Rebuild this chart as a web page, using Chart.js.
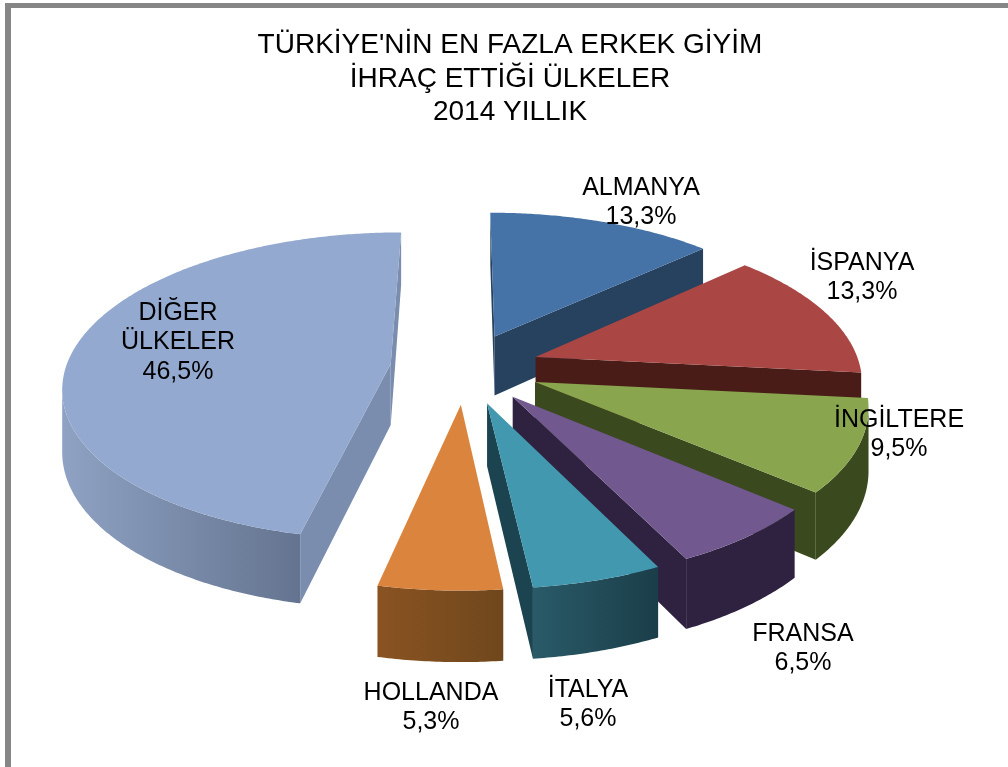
<!DOCTYPE html>
<html>
<head>
<meta charset="utf-8">
<script src="https://cdn.jsdelivr.net/npm/chart.js@4"></script>
<style>
    html, body { margin: 0; width: 1008px; height: 767px; overflow: hidden; background: #fff; }
    canvas { position: absolute; left: 0; top: 0; }
    .frame { position: absolute; background: #868686; }
</style>
</head>
<body>
<canvas id="pieChart" width="1020" height="767"></canvas>
<div class="frame" style="left:5px;top:3px;width:1003px;height:5px"></div>
<div class="frame" style="left:5px;top:3px;width:6px;height:764px"></div>
<script>
const countries = ['ALMANYA', 'İSPANYA', 'İNGİLTERE', 'FRANSA', 'İTALYA', 'HOLLANDA', 'DİĞER ÜLKELER'];
const shares = [13.3, 13.3, 9.5, 6.5, 5.6, 5.3, 46.5];
const titleLines = ["TÜRKİYE'NİN EN FAZLA ERKEK GİYİM", 'İHRAÇ ETTİĞİ ÜLKELER', '2014 YILLIK'];

const topColors = ['#4572a7', '#aa4643', '#89a54e', '#71588f', '#4198af', '#db843d', '#93a9cf'];
const cutColors = ['#27425f', '#4a1c18', '#3a4a1e', '#2f2140', '#1b4450', '#7a4a1e', '#7a8dae'];
const wallLeftColors = ['#27425f', '#4a1c18', '#3a4a1e', '#2f2140', '#2a5a68', '#8a5322', '#8fa2c3'];
const wallRightColors = ['#27425f', '#4a1c18', '#3a4a1e', '#2f2140', '#1a3e49', '#6f471c', '#647490'];

// centre of each label, the lines are split on the space only for DİĞER ÜLKELER
const labelSpots = [[641, 188], [862, 263], [899, 420], [803, 634], [588, 690], [431, 693], [178, 313]];

// the tilted view: pie centre on screen, squash, perspective and thickness
const view = { cx: 465, cy: 368, squash: 0.475, persp: 0.00043, depth: 61 };

function project(x, y, h) {
    const s = 1 + view.persp * y;
    return { x: view.cx + x * s, y: view.cy + view.squash * y * s + h * view.depth * s };
}

function fillFace(ctx, upper, lower, fill) {
    ctx.beginPath();
    upper.forEach((p, i) => i ? ctx.lineTo(p.x, p.y) : ctx.moveTo(p.x, p.y));
    lower.slice().reverse().forEach(p => ctx.lineTo(p.x, p.y));
    ctx.closePath();
    ctx.fillStyle = fill;
    ctx.fill();
}

function drawSlice(ctx, arc, i) {
    const { startAngle, endAngle, outerRadius } = arc.getProps(['startAngle', 'endAngle', 'outerRadius']);
    const mid = (startAngle + endAngle) / 2;
    const shift = arc.options.offset / 4;
    const ox = Math.cos(mid) * shift;
    const oy = Math.sin(mid) * shift;
    const steps = Math.ceil((endAngle - startAngle) / 0.01);

    const rim = [];
    for (let n = 0; n <= steps; n++) {
        const a = startAngle + (endAngle - startAngle) * n / steps;
        rim.push([ox + Math.cos(a) * outerRadius, oy + Math.sin(a) * outerRadius]);
    }
    const top = rim.map(p => project(p[0], p[1], 0));
    const bottom = rim.map(p => project(p[0], p[1], 1));
    const apexTop = project(ox, oy, 0);
    const apexBottom = project(ox, oy, 1);

    // a side shows only when its edge runs leftwards on screen
    if (top[0].x < apexTop.x) {
        fillFace(ctx, [apexTop, top[0]], [apexBottom, bottom[0]], cutColors[i]);
    }
    if (apexTop.x < top[steps].x) {
        fillFace(ctx, [top[steps], apexTop], [bottom[steps], apexBottom], cutColors[i]);
    }

    let from = -1;
    for (let n = 0; n <= steps; n++) {
        const going = n < steps && top[n + 1].x < top[n].x;
        if (going && from < 0) from = n;
        if (!going && from >= 0) {
            const grad = ctx.createLinearGradient(top[n].x, 0, top[from].x, 0);
            grad.addColorStop(0, wallLeftColors[i]);
            grad.addColorStop(1, wallRightColors[i]);
            fillFace(ctx, top.slice(from, n + 1), bottom.slice(from, n + 1), grad);
            from = -1;
        }
    }

    ctx.beginPath();
    ctx.moveTo(apexTop.x, apexTop.y);
    top.forEach(p => ctx.lineTo(p.x, p.y));
    ctx.closePath();
    ctx.fillStyle = topColors[i];
    ctx.fill();
}

const tiltedPie = {
    id: 'tiltedPie',
    beforeDatasetDraw() {
        return false;
    },
    afterDatasetsDraw(chart) {
        const ctx = chart.ctx;
        ctx.save();
        chart.getDatasetMeta(0).data.forEach((arc, i) => drawSlice(ctx, arc, i));

        ctx.fillStyle = '#000';
        ctx.font = '25px "Liberation Sans"';
        ctx.textAlign = 'center';
        ctx.textBaseline = 'middle';
        countries.forEach((name, i) => {
            const lines = name.split(' ');
            lines.push(shares[i].toFixed(1).replace('.', ',') + '%');
            lines.forEach((line, n) => ctx.fillText(line, labelSpots[i][0], labelSpots[i][1] + n * 29.5));
        });
        ctx.restore();
    }
};

new Chart(document.getElementById('pieChart').getContext('2d'), {
    type: 'pie',
    data: {
        labels: countries,
        datasets: [{
            data: shares,
            backgroundColor: topColors,
            borderWidth: 0,
            offset: 300
        }]
    },
    options: {
        responsive: false,
        animation: false,
        radius: 325,
        plugins: {
            legend: { display: false },
            tooltip: { enabled: false },
            title: {
                display: true,
                text: titleLines,
                color: '#000',
                font: { family: '"Liberation Sans"', size: 28, weight: 'normal', lineHeight: 1.19 },
                padding: { top: 29, bottom: 0 }
            }
        }
    },
    plugins: [tiltedPie]
});
</script>
</body>
</html>
